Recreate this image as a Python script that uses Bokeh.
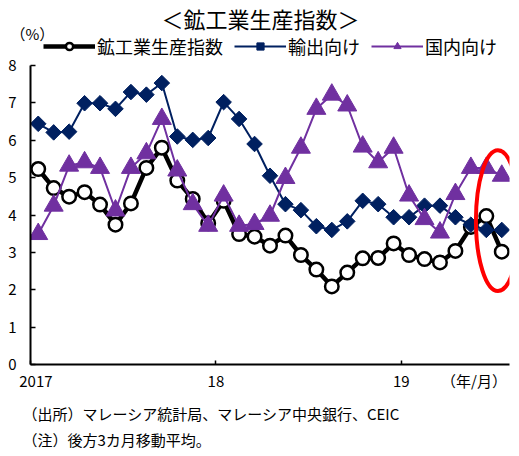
import numpy as np
from bokeh.plotting import figure
from bokeh.layouts import column
from bokeh.models import (FixedTicker, Legend, LegendItem, Range1d,
                          ColumnDataSource, Ellipse, Title)
from bokeh.core.properties import value
from bokeh.embed import file_html
from bokeh.resources import INLINE

# Malaysia industrial production, y/y % (3-month trailing moving average)
months = [f"{y}/{m}" for y in (2017, 2018, 2019) for m in range(1, 13)][:31]
mining_mfg = [5.23, 4.72, 4.49, 4.61, 4.28, 3.74, 4.31, 5.26, 5.80, 4.92, 4.43, 3.78,
              4.38, 3.49, 3.42, 3.18, 3.45, 2.93, 2.54, 2.09, 2.46, 2.84, 2.85, 3.24,
              2.93, 2.82, 2.73, 3.04, 3.68, 3.97, 3.02]
export_oriented = [6.44, 6.21, 6.23, 6.99, 6.99, 6.84, 7.29, 7.22, 7.53, 6.10, 6.01, 6.06,
                   7.02, 6.57, 5.90, 5.05, 4.29, 4.13, 3.70, 3.60, 3.83, 4.38, 4.29, 3.94,
                   3.94, 4.25, 4.25, 3.94, 3.74, 3.60, 3.60]
domestic_oriented = [3.49, 4.25, 5.32, 5.41, 5.26, 4.12, 5.26, 5.65, 6.57, 5.19, 4.29, 3.71,
                     4.52, 3.71, 3.76, 3.98, 4.99, 5.80, 6.84, 7.22, 6.93, 5.83, 5.41, 5.80,
                     4.52, 3.89, 3.53, 4.56, 5.26, 5.26, 5.05]
series_names = ["鉱工業生産指数", "輸出向け", "国内向け"]
year_bounds = [-0.5, 11.5, 23.5]          # January of each year (tick marks)
x_label_pos = [-0.15, 11.5, 23.5, 28.2]   # where the x labels sit
x_labels = ["2017", "18", "19", "（年/月）"]
y_ticks = list(range(0, 9))
notes = ["（出所）マレーシア統計局、マレーシア中央銀行、CEIC",
         "（注）後方3カ月移動平均。"]

FONT = "Noto Sans CJK JP"
NAVY = "#002060"
PURPLE = "#7030A0"
W, H = 519, 456
HEAD_H = 59
LEFT, RIGHT = 30, 10

styles = [
    dict(line=dict(line_color="black", line_width=4.5),
         mark=dict(marker="circle", size=13.5, fill_color="white",
                   line_color="black", line_width=2.5)),
    dict(line=dict(line_color=NAVY, line_width=2),
         mark=dict(marker="square", angle=np.pi / 4, size=11,
                   fill_color=NAVY, line_color=NAVY)),
    dict(line=dict(line_color=PURPLE, line_width=2),
         mark=dict(marker="triangle", size=19, fill_color=PURPLE, line_color=PURPLE)),
]

# ---- header: title, unit and legend (coordinates in page pixels) ----------
head = figure(width=W, height=HEAD_H, output_backend="svg", toolbar_location=None,
              x_range=Range1d(0, W), y_range=Range1d(HEAD_H, 0),
              x_axis_type=None, y_axis_type=None, min_border=0,
              min_border_left=0, min_border_right=0,
              min_border_top=0, min_border_bottom=0)
head.frame_align = False
head.outline_line_color = None
head.grid.visible = False

head.text(x=[260], y=[17], text=["＜鉱工業生産指数＞"], text_align="center",
          text_baseline="middle", text_font=value(FONT), text_font_size="22px",
          text_color="black")
head.text(x=[10], y=[33], text=["（%）"], text_align="left",
          text_baseline="middle", text_font=value(FONT), text_font_size="15px",
          text_color="black")

key_items = []
for name, st in zip(series_names, styles):
    rl = head.line(x=[np.nan], y=[np.nan], **st["line"])
    rm = head.scatter(x=[np.nan], y=[np.nan], **st["mark"])
    key_items.append(LegendItem(label=name, renderers=[rl, rm]))
head.add_layout(Legend(items=key_items, orientation="horizontal", location=(43, 0),
                       glyph_width=52, glyph_height=18, label_height=18,
                       label_standoff=2, spacing=11,
                       padding=0, margin=0, border_line_color=None,
                       background_fill_alpha=0, label_text_font=FONT,
                       label_text_font_size="18px", label_text_line_height=0.9,
                       label_text_color="black"))

# ---- main chart -----------------------------------------------------------
src = ColumnDataSource(dict(
    x=list(range(len(months))), month=months,
    mining=mining_mfg, export=export_oriented, domestic=domestic_oriented,
))

p = figure(width=W, height=H - HEAD_H, output_backend="svg", toolbar_location=None,
           x_range=Range1d(-0.5, 30.5), y_range=Range1d(0, 8),
           min_border_left=LEFT, min_border_right=RIGHT,
           min_border_top=65 - HEAD_H, min_border_bottom=92)
p.frame_align = False
p.outline_line_color = None
p.xgrid.visible = False
p.ygrid.visible = False

# x axis: minor ticks mark each January, major ticks only carry the labels
p.xaxis.ticker = FixedTicker(ticks=x_label_pos, minor_ticks=year_bounds)
p.xaxis.major_label_overrides = dict(zip(x_label_pos, x_labels))
p.xaxis.major_tick_line_color = None
p.xaxis.minor_tick_line_color = "black"
p.xaxis.minor_tick_line_width = 1.5
p.xaxis.minor_tick_in = 4
p.xaxis.minor_tick_out = 0
p.xaxis.major_tick_in = 0
p.xaxis.major_tick_out = 0
p.xaxis.major_label_standoff = 5

p.yaxis.ticker = FixedTicker(ticks=y_ticks)
p.yaxis.major_tick_line_color = "black"
p.yaxis.major_tick_line_width = 1.5
p.yaxis.major_tick_in = 5
p.yaxis.major_tick_out = 0
p.yaxis.minor_tick_line_color = None
p.yaxis.major_label_standoff = 14
p.yaxis.major_label_text_line_height = 0.9

for ax in (p.xaxis, p.yaxis):
    ax.axis_line_color = "black"
    ax.axis_line_width = 2
    ax.major_label_text_font = FONT
    ax.major_label_text_font_size = "15px"
    ax.major_label_text_color = "black"

cols = ["mining", "export", "domestic"]
for col, st in zip(cols, styles):
    p.line("x", col, source=src, **st["line"])
    p.scatter("x", col, source=src, **st["mark"])

# highlight of the latest months
p.add_glyph(Ellipse(x=29.75, y=3.85, width=44, height=141,
                    width_units="screen", height_units="screen",
                    fill_color=None, line_color="#FF0000", line_width=4))

for note, gap in zip(notes, (14, -8)):
    p.add_layout(Title(text=note, align="left", offset=-8, standoff=gap,
                       text_font=FONT, text_font_size="15px", text_font_style="normal",
                       text_color="black"), "below")

layout = column(head, p, spacing=0)
open("out.html", "w").write(file_html(layout, INLINE))
